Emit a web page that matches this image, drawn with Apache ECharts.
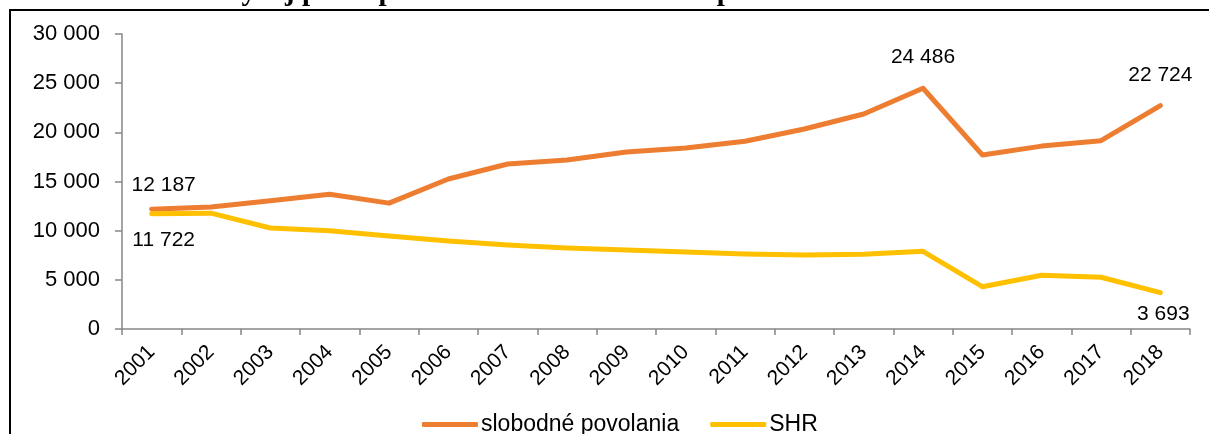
<!DOCTYPE html>
<html>
<head>
    <meta charset="utf-8">
    <title>Vývoj počtu podnikateľov</title>
    <script src="https://cdn.jsdelivr.net/npm/echarts@6/dist/echarts.min.js"></script>
    <style>
        html, body { margin: 0; padding: 0; background: #fff; }
        #main { width: 1209px; height: 434px; }
    </style>
</head>
<body>
<div id="main"></div>
<script>
    // roky na osi x
    var years = ['2001', '2002', '2003', '2004', '2005', '2006', '2007', '2008', '2009',
        '2010', '2011', '2012', '2013', '2014', '2015', '2016', '2017', '2018'];
    // slobodné povolania
    var slobodne = [12187, 12400, 13050, 13700, 12800, 15250, 16780, 17190, 18000,
        18400, 19100, 20340, 21860, 24486, 17700, 18600, 19150, 22724];
    // SHR
    var shr = [11722, 11780, 10270, 10000, 9450, 8950, 8540, 8240, 8030,
        7830, 7630, 7530, 7600, 7900, 4300, 5460, 5260, 3693];
    var yTicks = [0, 5000, 10000, 15000, 20000, 25000, 30000];

    function fmt(v) {
        return String(v).replace(/\B(?=(\d{3})+(?!\d))/g, ' ');
    }

    // popisky len pri vybraných bodoch
    function withLabels(values, labels) {
        return values.map(function (v, i) {
            var item = {value: v};
            if (labels[i]) {
                item.label = Object.assign({show: true, formatter: function (p) { return fmt(p.value); }}, labels[i]);
            }
            return item;
        });
    }

    var labelFont = {fontFamily: 'Liberation Sans', fontSize: 21, color: '#000'};

    var slobodneData = withLabels(slobodne, {
        0: Object.assign({position: 'top', offset: [12, -8]}, labelFont),
        13: Object.assign({position: 'top', offset: [0, -15]}, labelFont),
        17: Object.assign({position: 'top', offset: [0, -14]}, labelFont)
    });
    var shrData = withLabels(shr, {
        0: Object.assign({position: 'bottom', offset: [12, 10]}, labelFont),
        17: Object.assign({position: 'bottom', offset: [3, 6]}, labelFont)
    });

    var chart = echarts.init(document.getElementById('main'));
    var option = {
        animation: false,
        textStyle: {fontFamily: 'Liberation Sans'},
        title: {
            text: 'Graf 2 Vývoj počtu podnikateľov v slobodnom povolaní a SHR v rokoch 2001 – 2018',
            left: 127,
            top: -27,
            textStyle: {fontFamily: 'Liberation Serif', fontWeight: 'bold', fontSize: 29, color: '#000'}
        },
        graphic: [{
            type: 'rect',
            silent: true,
            z: 100,
            shape: {x: 10, y: 10, width: 1260, height: 500},
            style: {fill: 'none', stroke: '#000', lineWidth: 2}
        }],
        grid: {left: 122, right: 19, top: 34, bottom: 105},
        legend: {
            bottom: -7,
            left: 417,
            itemWidth: 56,
            itemHeight: 5,
            itemGap: 31,
            icon: 'roundRect',
            textStyle: {fontFamily: 'Liberation Sans', fontSize: 23, color: '#000', padding: [0, 0, 0, -2]},
            data: ['slobodné povolania', 'SHR']
        },
        xAxis: {
            type: 'category',
            data: years,
            boundaryGap: true,
            axisLine: {lineStyle: {color: '#868686', width: 1.5}},
            axisTick: {show: true, length: 6, lineStyle: {color: '#868686', width: 1.5}},
            axisLabel: {rotate: 45, fontSize: 21, color: '#000', margin: 20, interval: 0}
        },
        yAxis: {
            type: 'value',
            min: yTicks[0],
            max: yTicks[yTicks.length - 1],
            interval: 5000,
            axisLine: {show: true, lineStyle: {color: '#868686', width: 1.5}},
            axisTick: {show: true, length: 7, lineStyle: {color: '#868686', width: 1.5}},
            splitLine: {show: false},
            axisLabel: {fontSize: 22, color: '#000', margin: 22, formatter: fmt}
        },
        series: [
            {
                name: 'slobodné povolania',
                type: 'line',
                data: slobodneData,
                symbol: 'circle',
                symbolSize: 1,
                showSymbol: true,
                lineStyle: {color: '#ED7D31', width: 5, cap: 'round', join: 'round'},
                itemStyle: {color: '#ED7D31'}
            },
            {
                name: 'SHR',
                type: 'line',
                data: shrData,
                symbol: 'circle',
                symbolSize: 1,
                showSymbol: true,
                lineStyle: {color: '#FFC000', width: 5, cap: 'round', join: 'round'},
                itemStyle: {color: '#FFC000'}
            }
        ]
    };
    chart.setOption(option);
</script>
</body>
</html>
